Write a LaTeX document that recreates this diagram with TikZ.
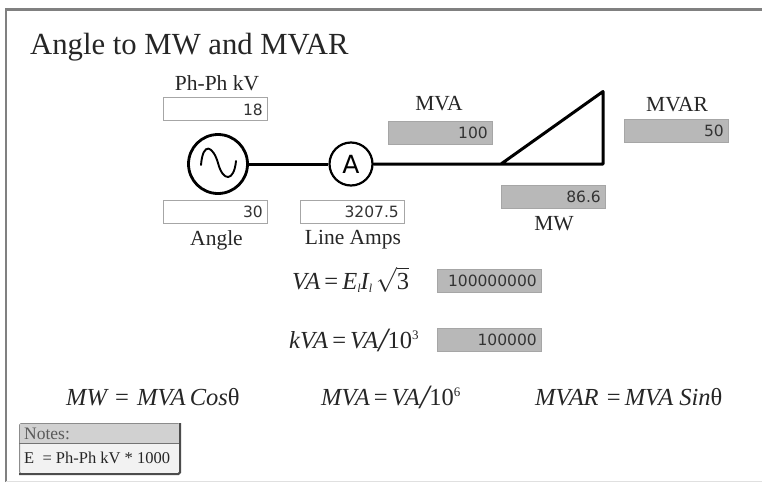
\documentclass[tikz,border=0pt]{standalone}
\usepackage{fontspec}
\setmainfont{Liberation Serif}
\newfontfamily\valuefont{DejaVu Sans}
\usetikzlibrary{calc}
\newcommand{\eqsign}{{\upshape\,=\,}}
\newcommand{\lsub}{\raisebox{-3.5pt}{\fontsize{12}{12}\selectfont l}}
\newcommand{\overten}[1]{{\upshape\raisebox{-3pt}{\fontsize{34}{34}\selectfont\itshape/}10\raisebox{9pt}{\fontsize{13}{13}\selectfont #1}}}
\begin{document}
\begin{tikzpicture}[
		x=1pt, y=-1pt,
		lbl/.style = {inner sep=0pt, font=\fontsize{21.5}{23}\selectfont, text=black!85},
		eqn/.style = {inner sep=0pt, anchor=base west, font=\fontsize{24.5}{26}\selectfont\itshape, text=black!85},
		inbox/.style = {rectangle, draw=black!35, fill=white, line width=0.8pt, minimum width=104pt, minimum height=23pt, inner sep=0pt},
		outbox/.style = {inbox, fill=black!28},
		val/.style = {inner sep=0pt, anchor=base east, font=\fontsize{15.5}{17}\selectfont\valuefont, text=black!80},
		wire/.style = {line width=3pt, line join=round}
		]
		\useasboundingbox (0,0) rectangle (762,482);
		
		% === === Frame === ===
		\fill[white] (0,0) rectangle (762,482);
		\draw[black!50, line width=2.8pt] (6,482) -- (6,9.5) -- (762,9.5);
		\draw[black!12, line width=0.8pt] (6,481.5) -- (762,481.5);
		
		% === === Nodes === ===
		\node[lbl, anchor=base west]	(title)	at	(30, 54)	{\fontsize{30.7}{32}\selectfont Angle to MW and MVAR};
		\node[lbl]	(lbl-kv)	at	(217, 83)	{Ph-Ph kV};
		\node[lbl]	(lbl-mva)	at	(439, 104)	{MVA};
		\node[lbl]	(lbl-mvar)	at	(677, 105)	{MVAR};
		\node[lbl]	(lbl-mw)	at	(554, 224)	{MW};
		\node[lbl]	(lbl-ang)	at	(216.5, 240)	{Angle};
		\node[lbl]	(lbl-amp)	at	(353, 240)	{Line Amps};
		
		\node[inbox]	(kv)	at	(215, 109)	{};
		\node[inbox]	(ang)	at	(215.5, 211.5)	{};
		\node[inbox]	(amp)	at	(352, 211.5)	{};
		\node[outbox]	(mva)	at	(440, 132.5)	{};
		\node[outbox]	(mvar)	at	(676.5, 130.5)	{};
		\node[outbox]	(mw)	at	(553, 196.5)	{};
		\node[outbox]	(va)	at	(489, 280.5)	{};
		\node[outbox]	(kva)	at	(489, 339.5)	{};
		
		\node[val]	(kv-v)	at	(263, 115)	{18};
		\node[val]	(ang-v)	at	(263, 217)	{30};
		\node[val]	(amp-v)	at	(399, 217)	{3207.5};
		\node[val]	(mva-v)	at	(488, 138)	{100};
		\node[val]	(mvar-v)	at	(724, 136)	{50};
		\node[val]	(mw-v)	at	(601, 202)	{86.6};
		\node[val]	(va-v)	at	(537, 286)	{100000000};
		\node[val]	(kva-v)	at	(537, 345)	{100000};
		
		\node[circle, draw, line width=2.8pt, minimum size=59pt, inner sep=0pt]	(gen)	at	(218, 164)	{};
		\node[circle, draw, line width=2.2pt, minimum size=43pt, inner sep=0pt, font=\fontsize{25}{27}\selectfont\valuefont]	(amm)	at	(351, 164)	{A};
		\coordinate	(tri-l)	at	(501, 164);
		\coordinate	(tri-t)	at	(603, 91.5);
		\coordinate	(tri-r)	at	(603, 164);
		
		\node[eqn]	(eq-va)	at	(292, 289)	{VA\eqsign E\lsub I\lsub\,$\sqrt{\mbox{\upshape 3}}$};
		\node[eqn]	(eq-kva)	at	(289, 348)	{kVA\eqsign VA\overten{3}};
		\node[eqn]	(eq-mw)	at	(66, 405)	{MW\,\eqsign\,MVA\,Cos{\upshape θ}};
		\node[eqn]	(eq-mva)	at	(321, 405)	{MVA\eqsign VA\overten{6}};
		\node[eqn]	(eq-mvar)	at	(535, 405)	{MVAR\,\eqsign MVA\ Sin{\upshape θ}};
		
		\node[rectangle, rounded corners=1.5pt, draw=black!45, fill=black!5, line width=1pt, minimum width=160pt, minimum height=50pt, inner sep=0pt]	(notes)	at	(99.5, 448.5)	{};
		\fill[black!18] ($(notes.north west)+(1,1)$) rectangle (179,443);
		\draw[black!55, line width=1pt] (notes.west |- 0,443) -- (notes.east |- 0,443);
		\draw[black!70, line width=2pt, rounded corners=1.5pt] (notes.north east) -- (notes.south east) -- (notes.south west);
		\node[anchor=base west, inner sep=0pt, font=\fontsize{17.5}{19}\selectfont, text=black!65]	(notes-h)	at	(24, 439)	{Notes:};
		\node[anchor=base west, inner sep=0pt, font=\fontsize{16.5}{18}\selectfont, text=black!85]	(notes-t)	at	(24, 463)	{E\ \ = Ph-Ph kV * 1000};
		
		% === === Lines === ===
		\draw[wire]	(gen.east)	--	(amm.west);
		\draw[wire]	(amm.east)	--	(tri-l)	--	(tri-t)	--	(tri-r)	--	cycle;
		\draw[line width=1.9pt, line cap=round]	(201,165) .. controls (203,141) and (213,146) .. (218,163) .. controls (223,182) and (234,182) .. (236,161);
		
	\end{tikzpicture}
\end{document}
